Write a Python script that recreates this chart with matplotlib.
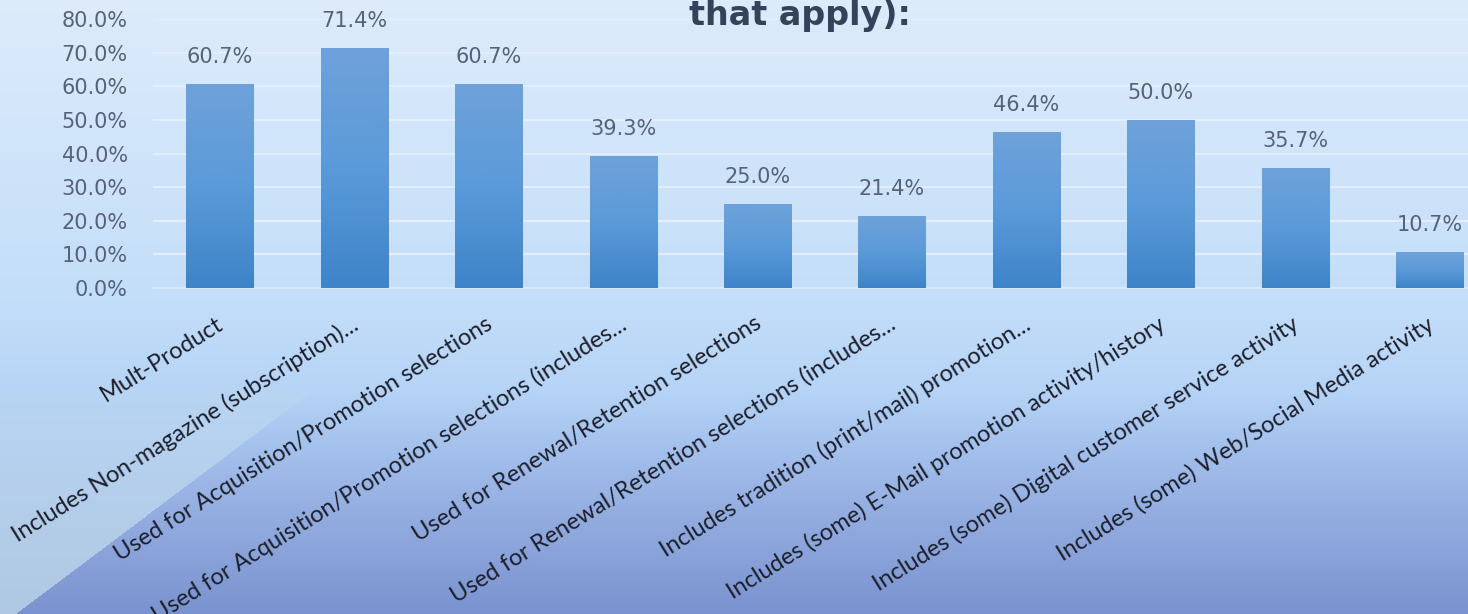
import numpy as np
import matplotlib.pyplot as plt
from matplotlib.colors import LinearSegmentedColormap
from matplotlib.transforms import ScaledTranslation

categories = [
    "Mult-Product",
    "Includes Non-magazine (subscription)...",
    "Used for Acquisition/Promotion selections",
    "Used for Acquisition/Promotion selections (includes...",
    "Used for Renewal/Retention selections",
    "Used for Renewal/Retention selections (includes...",
    "Includes tradition (print/mail) promotion...",
    "Includes (some) E-Mail promotion activity/history",
    "Includes (some) Digital customer service activity",
    "Includes (some) Web/Social Media activity",
]
values = [60.7, 71.4, 60.7, 39.3, 25.0, 21.4, 46.4, 50.0, 35.7, 10.7]
yticks = [0, 10, 20, 30, 40, 50, 60, 70, 80]

W, H = 1468, 614
fig = plt.figure(figsize=(W / 100, H / 100), dpi=100)

# slide background: vertical blue gradient with a lighter wedge bottom-left
bg_ax = fig.add_axes([0, 0, 1, 1], zorder=-10)
yy, xx = np.mgrid[0:H, 0:W].astype(float)
stops_y = [0, 300, 390, 440, 520, 614]
stops_c = np.array([[221, 235, 251], [195, 222, 249], [182, 212, 246],
                    [166, 195, 238], [146, 171, 223], [122, 147, 208]]) / 255
bg = np.zeros((H, W, 3))
for k in range(3):
    bg[..., k] = np.interp(yy, stops_y, stops_c[:, k])
wedge = (xx < 15 + 1.33 * (H - yy)) & (yy > 385)
t = np.clip((yy - 385) / (H - 385), 0, 1)
wedge_col = np.stack([
    np.interp(t, [0, 1], [184 / 255, 176 / 255]),
    np.interp(t, [0, 1], [213 / 255, 200 / 255]),
    np.interp(t, [0, 1], [244 / 255, 226 / 255]),
], axis=-1)
bg[wedge] = wedge_col[wedge]
bg_ax.imshow(bg, aspect="auto", extent=[0, 1, 0, 1])
bg_ax.axis("off")

ax = fig.add_axes([152.8 / W, 1 - 288 / H, 1344 / W, 269 / H])
ax.patch.set_alpha(0)
x = np.arange(len(categories))
bars = ax.bar(x, values, width=0.5, color="#4d8fd2", zorder=2)

# gradient fill for every bar
bar_cmap = LinearSegmentedColormap.from_list("bar", ["#3e84c8", "#5b9ad9", "#6fa2d9"])
grad = np.linspace(0, 1, 256).reshape(-1, 1)
for b in bars:
    x0, y0 = b.get_x(), b.get_y()
    im = ax.imshow(grad, cmap=bar_cmap, aspect="auto", origin="lower",
                   extent=[x0, x0 + b.get_width(), y0, y0 + b.get_height()], zorder=3)
    im.set_clip_path(b)

ax.set_xlim(-0.5, len(categories) - 0.5)
ax.set_ylim(0, 80)
ax.set_yticks(yticks)
ax.set_yticklabels([f"{v:.1f}%" for v in yticks], fontsize=15, color="#56627a",
                   family="DejaVu Sans")
ax.tick_params(axis="y", length=0, pad=18)
ax.tick_params(axis="x", length=0, labelbottom=False)
ax.grid(axis="y", color="#e4eefa", lw=1.5, zorder=1)
for s in ["top", "right", "left"]:
    ax.spines[s].set_visible(False)
ax.spines["bottom"].set_color("#dbe8f6")
ax.spines["bottom"].set_linewidth(1.5)

for xi, v in zip(x, values):
    ax.annotate(f"{v:.1f}%", (xi, v), xytext=(0, 12), textcoords="offset points",
                ha="center", va="bottom", fontsize=15, color="#56627a",
                family="DejaVu Sans", annotation_clip=False)

offset = ScaledTranslation(-4 / 100, -25 / 100, fig.dpi_scale_trans)
for xi, lab in zip(x, categories):
    ax.text(xi, 0, lab, transform=ax.transData + offset, rotation=32,
            rotation_mode="anchor", ha="right", va="top", fontsize=17,
            family="Lato", color="#1c1f2b", clip_on=False)

fig.text(800 / W, 1 - 25 / H, "that apply):", ha="center", va="baseline",
         fontsize=24, fontweight="bold", family="DejaVu Sans", color="#34425a")

fig.savefig("out.png", dpi=100)
